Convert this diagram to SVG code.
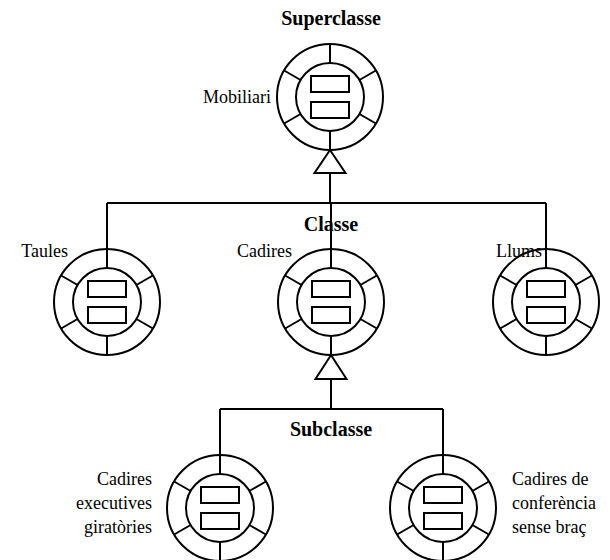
<svg xmlns="http://www.w3.org/2000/svg" xmlns:xlink="http://www.w3.org/1999/xlink" width="610" height="560" viewBox="0 0 610 560">
  <style>
    .ln { fill: none; stroke: #000; stroke-width: 2; }
    .lbl { font-family: "Liberation Serif", "Times New Roman", serif; font-size: 18px; fill: #000; }
    .hd { font-family: "Liberation Serif", "Times New Roman", serif; font-size: 20px; font-weight: bold; fill: #000; text-anchor: middle; }
    .tri { fill: #fff; stroke: #000; stroke-width: 2; }
  </style>
  <defs>
    <!-- object glyph: outer ring, inner core, six spokes, two attribute boxes -->
    <g id="obj">
      <circle class="ln" cx="0" cy="0" r="53" fill="#fff"/>
      <circle class="ln" cx="0" cy="0" r="34"/>
      <path class="ln" d="M0,-34V-53 M0,34V53 M29.4,-17L45.9,-26.5 M-29.4,-17L-45.9,-26.5 M29.4,17L45.9,26.5 M-29.4,17L-45.9,26.5"/>
      <rect class="ln" x="-19" y="-21" width="38" height="16"/>
      <rect class="ln" x="-19" y="5" width="38" height="16"/>
    </g>
  </defs>
  <rect width="610" height="560" fill="#fff"/>

  <!-- level headings -->
  <text class="hd" x="331" y="25">Superclasse</text>
  <text class="hd" x="331" y="231">Classe</text>
  <text class="hd" x="331" y="436">Subclasse</text>

  <!-- inheritance connectors -->
  <g id="connectors">
    <path class="ln" d="M330,173V203 M107,203H546 M107,203V249 M331,203V249 M546,203V249"/>
    <polygon class="tri" points="330,150 345.5,173 314.5,173"/>
    <path class="ln" d="M331,379V409 M220,409H443 M220,409V455 M443,409V455"/>
    <polygon class="tri" points="331,355 346.5,379 315.5,379"/>
  </g>

  <g id="mobiliari" transform="translate(330,97)">
    <use xlink:href="#obj"/>
    <text class="lbl" x="-59" y="6" text-anchor="end">Mobiliari</text>
  </g>
  <g id="taules" transform="translate(107,302)">
    <use xlink:href="#obj"/>
    <text class="lbl" x="-39" y="-45" text-anchor="end">Taules</text>
  </g>
  <g id="cadires" transform="translate(331,302)">
    <use xlink:href="#obj"/>
    <text class="lbl" x="-39" y="-45" text-anchor="end">Cadires</text>
  </g>
  <g id="llums" transform="translate(546,302)">
    <use xlink:href="#obj"/>
    <text class="lbl" x="-4" y="-45" text-anchor="end">Llums</text>
  </g>
  <g id="cadires-executives" transform="translate(220,508)">
    <use xlink:href="#obj"/>
    <text class="lbl" x="-68" text-anchor="end"><tspan x="-68" y="-23">Cadires</tspan><tspan x="-68" y="1">executives</tspan><tspan x="-68" y="25">giratòries</tspan></text>
  </g>
  <g id="cadires-conferencia" transform="translate(443,508)">
    <use xlink:href="#obj"/>
    <text class="lbl"><tspan x="69" y="-23">Cadires de</tspan><tspan x="69" y="1">conferència</tspan><tspan x="69" y="25">sense braç</tspan></text>
  </g>
</svg>
